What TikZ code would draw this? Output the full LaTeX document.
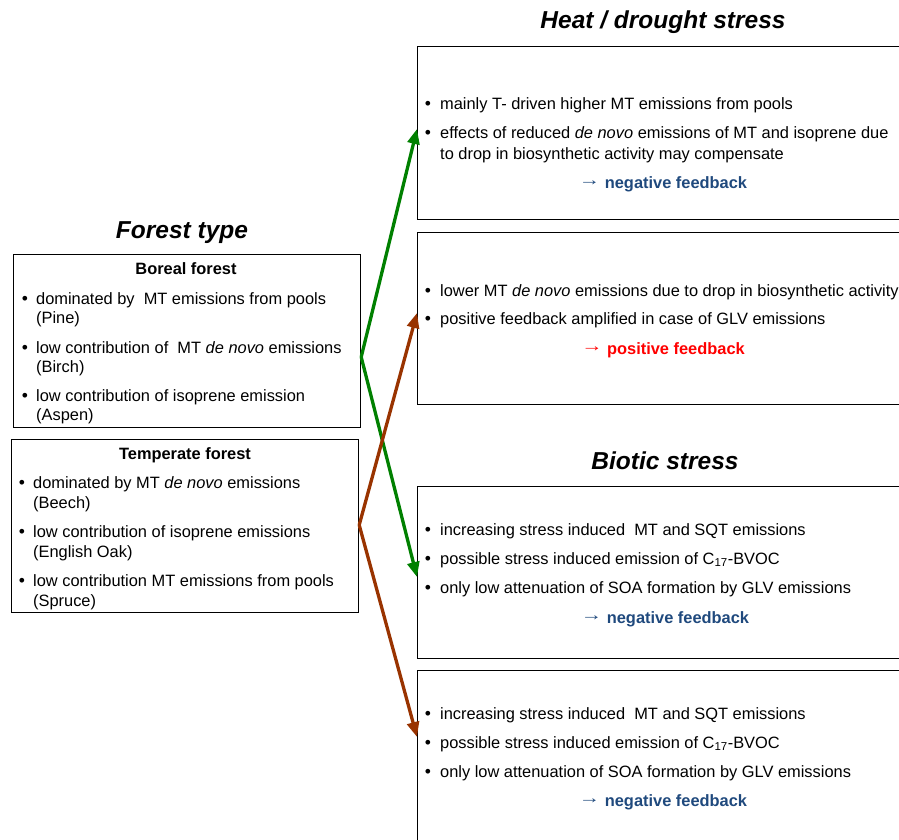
\documentclass[tikz,border=0pt]{standalone}
\usepackage{fontspec}
\setmainfont{Liberation Sans}
\usetikzlibrary{arrows.meta}
\definecolor{fbblue}{RGB}{31,73,125}
\definecolor{arrgreen}{RGB}{0,128,0}
\definecolor{arrbrown}{RGB}{153,51,0}
\newcommand{\fbarrow}{{\mdseries\raisebox{2.5pt}{\scalebox{1.3}[1]{→}}}}
\begin{document}
\begin{tikzpicture}[x=1pt,y=-1pt,
  box/.style={draw=black,line width=1.2pt,inner sep=0pt,anchor=north west},
  ttl/.style={font=\fontsize{24.5}{28}\selectfont\bfseries\itshape,anchor=base,inner sep=0pt},
  hd/.style={font=\fontsize{16.4}{19.5}\selectfont\bfseries,anchor=base,inner sep=0pt},
  ln/.style={font=\fontsize{16.4}{19.5}\selectfont,anchor=base west,inner sep=0pt},
  bul/.style={font=\fontsize{17.5}{19.5}\selectfont,anchor=base,inner sep=0pt},
  fb/.style={font=\fontsize{16.4}{19.5}\selectfont\bfseries,anchor=base,inner sep=0pt},
  conn/.style={line width=3.3pt,-{Triangle[length=15pt,width=12pt]}}
]
\useasboundingbox (0,0) rectangle (899,840);

% titles
\node[ttl] (tHeat) at (663,29) {Heat / drought stress};
\node[ttl] (tForest) at (182,238) {Forest type};
\node[ttl] (tBiotic) at (665,469) {Biotic stress};

% boxes
\node[box,minimum width=347pt,minimum height=173pt] (boreal) at (13,254) {};
\node[box,minimum width=347pt,minimum height=173pt] (temperate) at (11,439) {};
\node[box,minimum width=520pt,minimum height=173pt] (heat1) at (417,46) {};
\node[box,minimum width=520pt,minimum height=172pt] (heat2) at (417,232) {};
\node[box,minimum width=520pt,minimum height=172pt] (bio1) at (417,486) {};
\node[box,minimum width=520pt,minimum height=220pt] (bio2) at (417,670) {};

% boreal text
\node[hd] (bH) at (186,274) {Boreal forest};
\node[bul] (bB1) at (25,304) {•};
\node[ln] (bL1) at (36,304) {dominated by\ \ MT emissions from pools};
\node[ln] (bL1b) at (36,323) {(Pine)};
\node[bul] (bB2) at (25,353) {•};
\node[ln] (bL2) at (36,353) {low contribution of\ \ MT \textit{de novo} emissions};
\node[ln] (bL2b) at (36,372) {(Birch)};
\node[bul] (bB3) at (25,401) {•};
\node[ln] (bL3) at (36,401) {low contribution of isoprene emission};
\node[ln] (bL3b) at (36,420) {(Aspen)};

% temperate text
\node[hd] (tH) at (185,459) {Temperate forest};
\node[bul] (tB1) at (22,488) {•};
\node[ln] (tL1) at (33,488) {dominated by MT \textit{de novo} emissions};
\node[ln] (tL1b) at (33,508) {(Beech)};
\node[bul] (tB2) at (22,537) {•};
\node[ln] (tL2) at (33,537) {low contribution of isoprene emissions};
\node[ln] (tL2b) at (33,557) {(English Oak)};
\node[bul] (tB3) at (22,586) {•};
\node[ln] (tL3) at (33,586) {low contribution MT emissions from pools};
\node[ln] (tL3b) at (33,606) {(Spruce)};

% heat box 1
\node[bul] (h1B1) at (428,110) {•};
\node[ln] (h1L1) at (440,110) {mainly T- driven higher MT emissions from pools};
\node[bul] (h1B2) at (428,139) {•};
\node[ln] (h1L2) at (440,139) {effects of reduced \textit{de novo} emissions of MT and isoprene due};
\node[ln] (h1L2b) at (440,159) {to drop in biosynthetic activity may compensate};
\node[fb,text=fbblue] (h1F) at (663,188) {\fbarrow\ negative feedback};

% heat box 2
\node[bul] (h2B1) at (428,296) {•};
\node[ln] (h2L1) at (440,296) {lower MT \textit{de novo} emissions due to drop in biosynthetic activity};
\node[bul] (h2B2) at (428,324) {•};
\node[ln] (h2L2) at (440,324) {positive feedback amplified in case of GLV emissions};
\node[fb,text=red] (h2F) at (663,354) {\fbarrow\ positive feedback};

% biotic box 1
\node[bul] (b1B1) at (428,535) {•};
\node[ln] (b1L1) at (440,535) {increasing stress induced\ \ MT and SQT emissions};
\node[bul] (b1B2) at (428,564) {•};
\node[ln] (b1L2) at (440,564) {possible stress induced emission of C\textsubscript{17}-BVOC};
\node[bul] (b1B3) at (428,593) {•};
\node[ln] (b1L3) at (440,593) {only low attenuation of SOA formation by GLV emissions};
\node[fb,text=fbblue] (b1F) at (665,623) {\fbarrow\ negative feedback};

% biotic box 2
\node[bul] (b2B1) at (428,719) {•};
\node[ln] (b2L1) at (440,719) {increasing stress induced\ \ MT and SQT emissions};
\node[bul] (b2B2) at (428,748) {•};
\node[ln] (b2L2) at (440,748) {possible stress induced emission of C\textsubscript{17}-BVOC};
\node[bul] (b2B3) at (428,777) {•};
\node[ln] (b2L3) at (440,777) {only low attenuation of SOA formation by GLV emissions};
\node[fb,text=fbblue] (b2F) at (663,806) {\fbarrow\ negative feedback};

% connectors
\coordinate (gv) at (boreal.north east |- 0,357);
\coordinate (bv) at (temperate.north east |- 0,525);
\coordinate (gt1) at (heat1.north west |- 0,129);
\coordinate (gt2) at (bio1.north west |- 0,577);
\coordinate (bt1) at (heat2.north west |- 0,313);
\coordinate (bt2) at (bio2.north west |- 0,737);
\draw[conn,arrgreen] (gv) -- (gt1);
\draw[conn,arrgreen] (gv) -- (gt2);
\draw[conn,arrbrown] (bv) -- (bt1);
\draw[conn,arrbrown] (bv) -- (bt2);
\end{tikzpicture}
\end{document}
